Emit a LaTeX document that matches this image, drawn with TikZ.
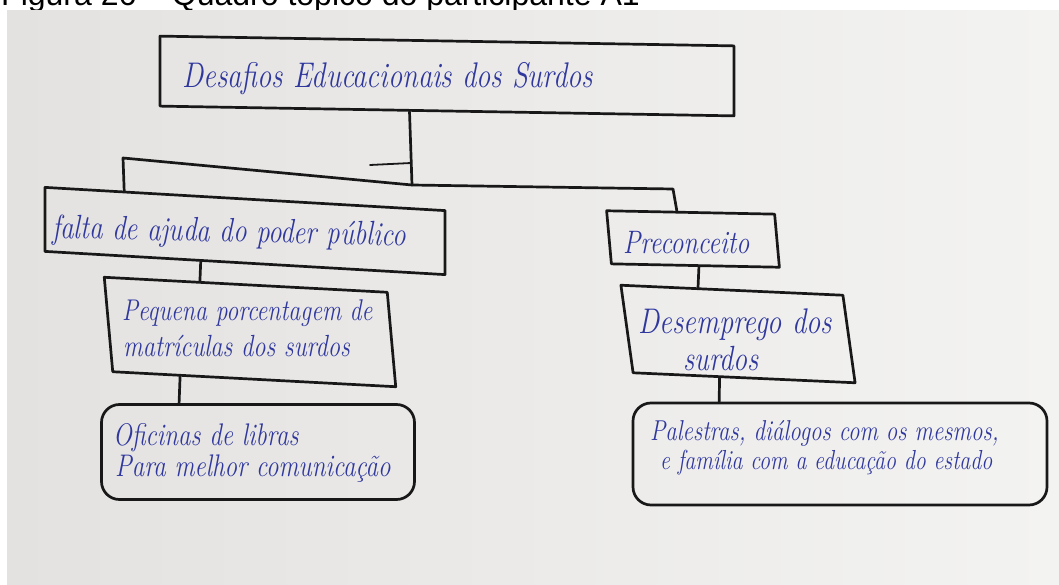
\documentclass[tikz,border=0pt]{standalone}
\usepackage{fontspec}
\setsansfont{Liberation Sans}
\usetikzlibrary{calc}
\definecolor{paperL}{RGB}{228,226,225}
\definecolor{paperR}{RGB}{243,243,242}
\definecolor{ink}{RGB}{48,56,158}
\definecolor{pen}{RGB}{24,24,24}
\tikzset{
  box/.style={draw=pen, line width=2.7pt, inner sep=0pt, line join=round},
  roundbox/.style={box, rounded corners=18pt},
  hw/.style={text=ink, inner sep=0pt, anchor=base west, yscale=1.25},
  wire/.style={draw=pen, line width=2.7pt, line cap=round, line join=round},
}
\newcommand{\hwsize}[1]{\itshape\fontsize{#1}{#1}\selectfont}
\begin{document}
\begin{tikzpicture}[x=1pt,y=-1pt]
\useasboundingbox (0,0) rectangle (1059,585);
% caption above the photograph
\node[anchor=base west, inner sep=0pt, font=\sffamily\fontsize{32}{32}\selectfont] (caption) at (1,6) {Figura 26 – Quadro tópico do participante A1};
% the photographed sheet
\shade[left color=paperL, right color=paperR] (7,11) rectangle (1059,585);

% boxes
\node[box, minimum width=574pt, minimum height=70pt, yslant=-0.017] (top) at (447,76) {};
\node[box, minimum width=400pt, minimum height=64pt, yslant=-0.058] (falta) at (245,231) {};
\node[box, minimum width=168pt, minimum height=53pt, yslant=-0.02, xslant=-0.09] (precon) at (693,239) {};
\node[box, minimum width=283pt, minimum height=94pt, yslant=-0.053, xslant=-0.09] (pequena) at (250,332) {};
\node[box, minimum width=222pt, minimum height=87pt, yslant=-0.045, xslant=-0.14] (desemp) at (738,334) {};
\node[roundbox, minimum width=313pt, minimum height=95pt] (oficinas) at (258,452) {};
\node[roundbox, minimum width=414pt, minimum height=102pt] (palestras) at (840,454) {};

% handwritten texts
\node[hw, font=\hwsize{28.5}] (ttop) at (182,88) {Desafios Educacionais dos Surdos};
\node[hw, font=\hwsize{27}, rotate=-1] (tfalta) at (52,238) {falta de ajuda do poder público};
\node[hw, font=\hwsize{26}] (tprecon) at (623,253) {Preconceito};
\node[hw, font=\hwsize{24}] (tpeq1) at (122,320) {Pequena porcentagem de};
\node[hw, font=\hwsize{24.5}] (tpeq2) at (123,356) {matrículas dos surdos};
\node[hw, font=\hwsize{28.5}] (tdes1) at (638,333) {Desemprego dos};
\node[hw, font=\hwsize{28}] (tdes2) at (683,370) {surdos};
\node[hw, font=\hwsize{25}] (tofi1) at (113,445) {Oficinas de libras};
\node[hw, font=\hwsize{25}] (tofi2) at (115,476) {Para melhor comunicação};
\node[hw, font=\hwsize{23}] (tpal1) at (650,440) {Palestras, diálogos com os mesmos,};
\node[hw, font=\hwsize{22}] (tpal2) at (660,469) {e família com a educação do estado};

% branching connectors
\coordinate (barL) at (123,158);
\coordinate (barM) at (412,185);
\coordinate (barR) at (673,189);
\coordinate (stubA) at (370,165);
\coordinate (stubB) at (411,163);
\draw[wire] ($(top.south west)!0.435!(top.south east)$) -- (barM);
\draw[wire] ($(falta.north west)!0.2!(falta.north east)$) -- (barL) -- (barM) -- (barR)
  -- ($(precon.north west)!0.42!(precon.north east)$);
\draw[wire, line width=1.8pt] (stubA) -- (stubB);

\draw[wire] ($(falta.south west)!0.39!(falta.south east)$) -- ($(pequena.north west)!0.34!(pequena.north east)$);
\draw[wire] ($(pequena.south west)!0.24!(pequena.south east)$) -- ($(oficinas.north west)!0.25!(oficinas.north east)$);
\draw[wire] ($(precon.south west)!0.52!(precon.south east)$) -- ($(desemp.north west)!0.35!(desemp.north east)$);
\draw[wire] ($(desemp.south west)!0.39!(desemp.south east)$) -- ($(palestras.north west)!0.21!(palestras.north east)$);
\end{tikzpicture}
\end{document}
